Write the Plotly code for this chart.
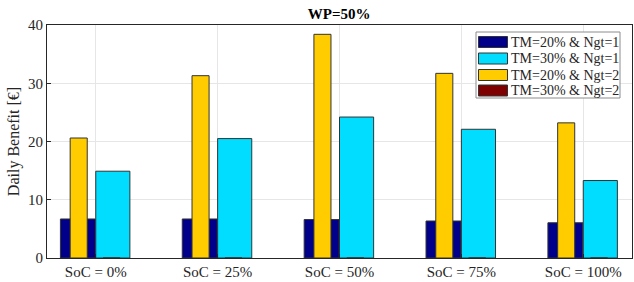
import plotly.graph_objects as go

categories = ["SoC = 0%", "SoC = 25%", "SoC = 50%", "SoC = 75%", "SoC = 100%"]
series_names = ["TM=20% & Ngt=1", "TM=30% & Ngt=1", "TM=20% & Ngt=2", "TM=30% & Ngt=2"]
tm20_ngt1 = [6.7, 6.7, 6.6, 6.35, 6.05]
tm30_ngt1 = [14.9, 20.5, 24.2, 22.1, 13.3]
tm20_ngt2 = [20.6, 31.3, 38.4, 31.7, 23.2]
tm30_ngt2 = [0, 0, 0, 0, 0]
y_ticks = [0, 10, 20, 30, 40]

colors = ["#00008B", "#00DDFF", "#FFCC00", "#7F0000"]
offsets = [-0.29, 0.0, -0.21, 0.06]
widths = [0.287, 0.28, 0.14, 0.14]
values = [tm20_ngt1, tm30_ngt1, tm20_ngt2, tm30_ngt2]

font_family = "Liberation Serif, Times New Roman, serif"
xs = list(range(len(categories)))
fig = go.Figure()
for name, vals, c, off, w in zip(series_names, values, colors, offsets, widths):
    fig.add_trace(go.Bar(
        x=xs, y=vals, name=name, offset=off, width=w, showlegend=False,
        marker=dict(color=c, line=dict(color="#333333", width=1)),
    ))

# Manual legend (MATLAB-style wide swatches), in paper coordinates
L, R, T, B = 47, 632, 25, 258
def px(x):
    return (x - L) / (R - L)
def py(y):
    return (B - y) / (B - T)

shapes = [dict(type="rect", xref="paper", yref="paper",
               x0=px(476), x1=px(620), y0=py(98), y1=py(32),
               fillcolor="white", line=dict(color="#8C8C8C", width=1), layer="above")]
annotations = []
row_centers = [42, 58.5, 75, 90.5]
for name, c, yc in zip(series_names, colors, row_centers):
    shapes.append(dict(type="rect", xref="paper", yref="paper",
                       x0=px(478.5), x1=px(507.5), y0=py(yc + 5.5), y1=py(yc - 5.5),
                       fillcolor=c, line=dict(color="#333333", width=1), layer="above"))
    annotations.append(dict(text=name, xref="paper", yref="paper", x=px(508.5), y=py(yc),
                            xanchor="left", yanchor="middle", showarrow=False,
                            font=dict(family=font_family, size=14, color="#262626")))

fig.update_layout(
    width=634, height=282,
    barmode="overlay",
    margin=dict(l=47, r=2, t=25, b=24, autoexpand=False),
    paper_bgcolor="white", plot_bgcolor="white",
    font=dict(family=font_family, size=15, color="#262626"),
    title=dict(text="<b>WP=50%</b>", x=0.535, xanchor="center", y=0.95, yanchor="middle",
               font=dict(family=font_family, size=15, color="black")),
    showlegend=False,
    shapes=shapes,
    annotations=annotations,
    xaxis=dict(range=[-0.4, 4.4], tickvals=xs, ticktext=categories,
               showgrid=True, gridcolor="#E6E6E6", showline=True, linecolor="#262626",
               mirror=True, ticks="inside", ticklen=4, tickcolor="#262626", zeroline=False,
               tickfont=dict(size=15)),
    yaxis=dict(range=[0, 40], tickvals=y_ticks, showgrid=True, gridcolor="#E6E6E6",
               showline=True, linecolor="#262626", mirror=True, ticks="inside", ticklen=4,
               tickcolor="#262626", zeroline=False, tickfont=dict(size=15),
               title=dict(text="Daily Benefit [€]", standoff=4,
                          font=dict(family=font_family, size=16, color="#262626"))),
)
fig.write_html("out.html", config={"displayModeBar": False},
               post_script="document.body.style.margin='0';document.body.style.padding='0';")
